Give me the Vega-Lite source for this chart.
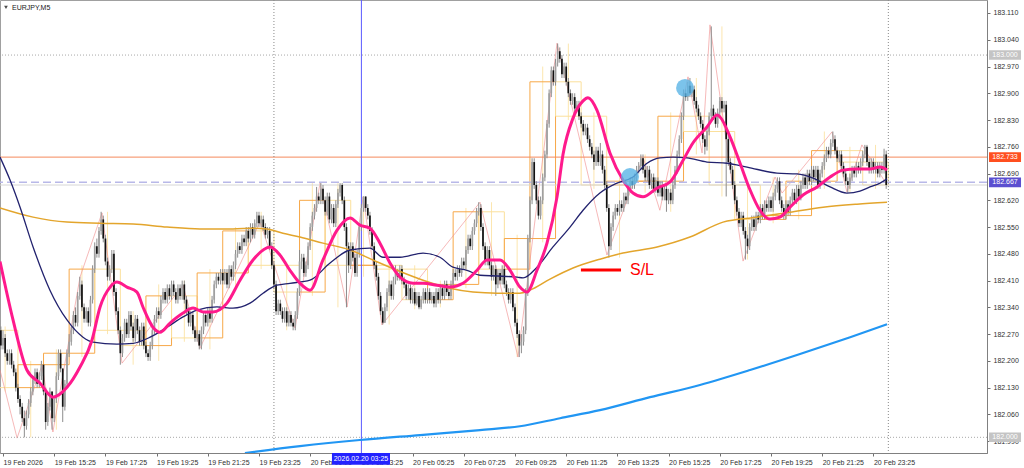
{
"$schema":"https://vega.github.io/schema/vega-lite/v6.json",
"width":987,"height":453,"autosize":{"type":"none"},"padding":{"left":0,"top":0,"right":37,"bottom":15},
"background":"#ffffff",
"config":{"view":{"stroke":"#a0a0a0"},
"axis":{"grid":false,"title":null,"labelFont":"Liberation Sans","labelFontSize":7,"labelColor":"#303030","tickSize":3,"tickColor":"#707070","domainColor":"#808080","labelFlush":false,"labelOverlap":false},
"axisX":{"labelAlign":"left","labelBaseline":"top","labelPadding":2},
"axisY":{"labelAlign":"left","labelPadding":3}},
"datasets":{
"bars":[
{"i":-1,"o":182.28,"c":182.24,"h":182.29,"l":182.23},
{"i":0,"c":182.26,"h":182.28,"l":182.23},
{"i":1,"c":182.22,"h":182.27,"l":182.21},
{"i":2,"c":182.2,"h":182.23,"l":182.19},
{"i":3,"c":182.22,"h":182.23,"l":182.19},
{"i":4,"c":182.19,"h":182.23,"l":182.18},
{"i":5,"c":182.17,"h":182.2,"l":182.16},
{"i":6,"c":182.13,"h":182.18,"l":182.12},
{"i":7,"c":182.1,"h":182.14,"l":182.09},
{"i":8,"c":182.08,"h":182.11,"l":182.06},
{"i":9,"c":182.05,"h":182.09,"l":182.04},
{"i":10,"c":182.03,"h":182.07,"l":182.0},
{"i":11,"c":182.06,"h":182.07,"l":182.02},
{"i":12,"c":182.09,"h":182.1,"l":182.05},
{"i":13,"c":182.12,"h":182.13,"l":182.08},
{"i":14,"c":182.15,"h":182.16,"l":182.11},
{"i":15,"c":182.17,"h":182.18,"l":182.14},
{"i":16,"c":182.14,"h":182.18,"l":182.13},
{"i":17,"c":182.16,"h":182.17,"l":182.13},
{"i":18,"c":182.19,"h":182.2,"l":182.15},
{"i":19,"c":182.12,"h":182.19,"l":182.11},
{"i":20,"c":182.04,"h":182.13,"l":182.02},
{"i":21,"c":182.08,"h":182.09,"l":182.03},
{"i":22,"c":182.12,"h":182.13,"l":182.07},
{"i":23,"c":182.05,"h":182.12,"l":182.02},
{"i":24,"c":182.1,"h":182.11,"l":182.04},
{"i":25,"c":182.16,"h":182.17,"l":182.09},
{"i":26,"c":182.22,"h":182.23,"l":182.15},
{"i":27,"c":182.18,"h":182.23,"l":182.17},
{"i":28,"c":182.08,"h":182.18,"l":182.04},
{"i":29,"c":182.14,"h":182.15,"l":182.07},
{"i":30,"c":182.22,"h":182.23,"l":182.13},
{"i":31,"c":182.25,"h":182.27,"l":182.21},
{"i":32,"c":182.28,"h":182.29,"l":182.24},
{"i":33,"c":182.32,"h":182.33,"l":182.27},
{"i":34,"c":182.3,"h":182.34,"l":182.29},
{"i":35,"c":182.37,"h":182.38,"l":182.29},
{"i":36,"c":182.4,"h":182.42,"l":182.36},
{"i":37,"c":182.34,"h":182.41,"l":182.33},
{"i":38,"c":182.31,"h":182.35,"l":182.3},
{"i":39,"c":182.33,"h":182.34,"l":182.3},
{"i":40,"c":182.3,"h":182.34,"l":182.29},
{"i":41,"c":182.36,"h":182.37,"l":182.29},
{"i":42,"c":182.44,"h":182.45,"l":182.35},
{"i":43,"c":182.5,"h":182.51,"l":182.43},
{"i":44,"c":182.48,"h":182.52,"l":182.47},
{"i":45,"c":182.54,"h":182.55,"l":182.47},
{"i":46,"c":182.57,"h":182.59,"l":182.53},
{"i":47,"c":182.52,"h":182.58,"l":182.51},
{"i":48,"c":182.46,"h":182.53,"l":182.45},
{"i":49,"c":182.42,"h":182.47,"l":182.41},
{"i":50,"c":182.44,"h":182.45,"l":182.41},
{"i":51,"c":182.48,"h":182.49,"l":182.43},
{"i":52,"c":182.38,"h":182.49,"l":182.37},
{"i":53,"c":182.33,"h":182.39,"l":182.32},
{"i":54,"c":182.28,"h":182.34,"l":182.27},
{"i":55,"c":182.22,"h":182.29,"l":182.19},
{"i":56,"c":182.26,"h":182.27,"l":182.21},
{"i":57,"c":182.3,"h":182.31,"l":182.25},
{"i":58,"c":182.27,"h":182.31,"l":182.26},
{"i":59,"c":182.32,"h":182.33,"l":182.26},
{"i":60,"c":182.29,"h":182.33,"l":182.28},
{"i":61,"c":182.26,"h":182.3,"l":182.25},
{"i":62,"c":182.31,"h":182.32,"l":182.25},
{"i":63,"c":182.28,"h":182.32,"l":182.27},
{"i":64,"c":182.25,"h":182.29,"l":182.24},
{"i":65,"c":182.29,"h":182.3,"l":182.24},
{"i":66,"c":182.24,"h":182.3,"l":182.23},
{"i":67,"c":182.22,"h":182.25,"l":182.21},
{"i":68,"c":182.21,"h":182.23,"l":182.2},
{"i":69,"c":182.24,"h":182.25,"l":182.2},
{"i":70,"c":182.28,"h":182.29,"l":182.23},
{"i":71,"c":182.31,"h":182.32,"l":182.27},
{"i":72,"c":182.33,"h":182.34,"l":182.3},
{"i":73,"c":182.32,"h":182.34,"l":182.31},
{"i":74,"c":182.36,"h":182.37,"l":182.31},
{"i":75,"c":182.38,"h":182.39,"l":182.35},
{"i":76,"c":182.36,"h":182.39,"l":182.35},
{"i":77,"c":182.39,"h":182.4,"l":182.35},
{"i":78,"c":182.37,"h":182.4,"l":182.36},
{"i":79,"c":182.4,"h":182.41,"l":182.36},
{"i":80,"c":182.38,"h":182.41,"l":182.37},
{"i":81,"c":182.36,"h":182.39,"l":182.35},
{"i":82,"c":182.39,"h":182.4,"l":182.35},
{"i":83,"c":182.37,"h":182.4,"l":182.36},
{"i":84,"c":182.4,"h":182.41,"l":182.36},
{"i":85,"c":182.36,"h":182.41,"l":182.35},
{"i":86,"c":182.33,"h":182.37,"l":182.32},
{"i":87,"c":182.3,"h":182.34,"l":182.29},
{"i":88,"c":182.32,"h":182.33,"l":182.29},
{"i":89,"c":182.28,"h":182.33,"l":182.27},
{"i":90,"c":182.26,"h":182.29,"l":182.25},
{"i":91,"c":182.27,"h":182.28,"l":182.25},
{"i":92,"c":182.24,"h":182.28,"l":182.23},
{"i":93,"c":182.28,"h":182.29,"l":182.23},
{"i":94,"c":182.32,"h":182.33,"l":182.27},
{"i":95,"c":182.3,"h":182.33,"l":182.29},
{"i":96,"c":182.33,"h":182.34,"l":182.29},
{"i":97,"c":182.31,"h":182.34,"l":182.3},
{"i":98,"c":182.36,"h":182.37,"l":182.3},
{"i":99,"c":182.4,"h":182.41,"l":182.35},
{"i":100,"c":182.42,"h":182.43,"l":182.39},
{"i":101,"c":182.41,"h":182.43,"l":182.4},
{"i":102,"c":182.43,"h":182.44,"l":182.4},
{"i":103,"c":182.41,"h":182.44,"l":182.4},
{"i":104,"c":182.43,"h":182.44,"l":182.4},
{"i":105,"c":182.4,"h":182.44,"l":182.39},
{"i":106,"c":182.44,"h":182.45,"l":182.39},
{"i":107,"c":182.42,"h":182.45,"l":182.41},
{"i":108,"c":182.45,"h":182.46,"l":182.41},
{"i":109,"c":182.48,"h":182.49,"l":182.44},
{"i":110,"c":182.5,"h":182.51,"l":182.47},
{"i":111,"c":182.49,"h":182.51,"l":182.48},
{"i":112,"c":182.52,"h":182.53,"l":182.48},
{"i":113,"c":182.51,"h":182.53,"l":182.5},
{"i":114,"c":182.54,"h":182.55,"l":182.5},
{"i":115,"c":182.52,"h":182.55,"l":182.51},
{"i":116,"c":182.55,"h":182.56,"l":182.51},
{"i":117,"c":182.53,"h":182.56,"l":182.52},
{"i":118,"c":182.56,"h":182.57,"l":182.52},
{"i":119,"c":182.58,"h":182.59,"l":182.55},
{"i":120,"c":182.56,"h":182.59,"l":182.55},
{"i":121,"c":182.57,"h":182.58,"l":182.55},
{"i":122,"c":182.55,"h":182.58,"l":182.54},
{"i":123,"c":182.53,"h":182.56,"l":182.52},
{"i":124,"c":182.54,"h":182.55,"l":182.52},
{"i":125,"c":182.5,"h":182.55,"l":182.49},
{"i":126,"c":182.45,"h":182.51,"l":182.44},
{"i":127,"c":182.4,"h":182.46,"l":182.39},
{"i":128,"c":182.33,"h":182.41,"l":182.32},
{"i":129,"c":182.35,"h":182.36,"l":182.32},
{"i":130,"c":182.33,"h":182.36,"l":182.32},
{"i":131,"c":182.31,"h":182.34,"l":182.3},
{"i":132,"c":182.33,"h":182.34,"l":182.3},
{"i":133,"c":182.3,"h":182.34,"l":182.29},
{"i":134,"c":182.32,"h":182.33,"l":182.29},
{"i":135,"c":182.3,"h":182.33,"l":182.29},
{"i":136,"c":182.29,"h":182.31,"l":182.28},
{"i":137,"c":182.32,"h":182.33,"l":182.28},
{"i":138,"c":182.38,"h":182.39,"l":182.31},
{"i":139,"c":182.46,"h":182.49,"l":182.37},
{"i":140,"c":182.47,"h":182.48,"l":182.44},
{"i":141,"c":182.43,"h":182.48,"l":182.42},
{"i":142,"c":182.45,"h":182.46,"l":182.42},
{"i":143,"c":182.5,"h":182.51,"l":182.44},
{"i":144,"c":182.55,"h":182.56,"l":182.49},
{"i":145,"c":182.58,"h":182.59,"l":182.54},
{"i":146,"c":182.6,"h":182.61,"l":182.57},
{"i":147,"c":182.63,"h":182.655,"l":182.59},
{"i":148,"c":182.62,"h":182.64,"l":182.61},
{"i":149,"c":182.65,"h":182.665,"l":182.61},
{"i":150,"c":182.62,"h":182.66,"l":182.61},
{"i":151,"c":182.59,"h":182.63,"l":182.58},
{"i":152,"c":182.63,"h":182.64,"l":182.58},
{"i":153,"c":182.57,"h":182.64,"l":182.56},
{"i":154,"c":182.6,"h":182.61,"l":182.56},
{"i":155,"c":182.56,"h":182.61,"l":182.55},
{"i":156,"c":182.61,"h":182.62,"l":182.55},
{"i":157,"c":182.64,"h":182.65,"l":182.6},
{"i":158,"c":182.66,"h":182.665,"l":182.63},
{"i":159,"c":182.62,"h":182.665,"l":182.61},
{"i":160,"c":182.55,"h":182.63,"l":182.54},
{"i":161,"c":182.5,"h":182.56,"l":182.34},
{"i":162,"c":182.45,"h":182.51,"l":182.43},
{"i":163,"c":182.5,"h":182.51,"l":182.44},
{"i":164,"c":182.47,"h":182.51,"l":182.46},
{"i":165,"c":182.43,"h":182.48,"l":182.42},
{"i":166,"c":182.48,"h":182.49,"l":182.42},
{"i":167,"c":182.55,"h":182.56,"l":182.47},
{"i":168,"c":182.6,"h":182.61,"l":182.54},
{"i":169,"c":182.63,"h":182.63,"l":182.59},
{"i":170,"c":182.6,"h":182.63,"l":182.59},
{"i":171,"c":182.58,"h":182.61,"l":182.57},
{"i":172,"c":182.54,"h":182.59,"l":182.53},
{"i":173,"c":182.5,"h":182.55,"l":182.49},
{"i":174,"c":182.45,"h":182.51,"l":182.44},
{"i":175,"c":182.42,"h":182.46,"l":182.41},
{"i":176,"c":182.37,"h":182.43,"l":182.36},
{"i":177,"c":182.33,"h":182.38,"l":182.32},
{"i":178,"c":182.3,"h":182.34,"l":182.295},
{"i":179,"c":182.34,"h":182.35,"l":182.3},
{"i":180,"c":182.38,"h":182.39,"l":182.33},
{"i":181,"c":182.4,"h":182.41,"l":182.37},
{"i":182,"c":182.37,"h":182.41,"l":182.36},
{"i":183,"c":182.41,"h":182.42,"l":182.36},
{"i":184,"c":182.43,"h":182.45,"l":182.4},
{"i":185,"c":182.42,"h":182.44,"l":182.41},
{"i":186,"c":182.44,"h":182.45,"l":182.41},
{"i":187,"c":182.41,"h":182.45,"l":182.4},
{"i":188,"c":182.4,"h":182.42,"l":182.39},
{"i":189,"c":182.37,"h":182.41,"l":182.36},
{"i":190,"c":182.39,"h":182.4,"l":182.36},
{"i":191,"c":182.36,"h":182.4,"l":182.35},
{"i":192,"c":182.38,"h":182.39,"l":182.35},
{"i":193,"c":182.35,"h":182.39,"l":182.345},
{"i":194,"c":182.37,"h":182.38,"l":182.345},
{"i":195,"c":182.34,"h":182.38,"l":182.335},
{"i":196,"c":182.36,"h":182.37,"l":182.335},
{"i":197,"c":182.38,"h":182.39,"l":182.35},
{"i":198,"c":182.36,"h":182.39,"l":182.35},
{"i":199,"c":182.38,"h":182.39,"l":182.35},
{"i":200,"c":182.36,"h":182.39,"l":182.35},
{"i":201,"c":182.37,"h":182.38,"l":182.35},
{"i":202,"c":182.35,"h":182.38,"l":182.34},
{"i":203,"c":182.38,"h":182.39,"l":182.34},
{"i":204,"c":182.36,"h":182.39,"l":182.35},
{"i":205,"c":182.39,"h":182.4,"l":182.35},
{"i":206,"c":182.37,"h":182.4,"l":182.36},
{"i":207,"c":182.4,"h":182.41,"l":182.36},
{"i":208,"c":182.38,"h":182.41,"l":182.37},
{"i":209,"c":182.37,"h":182.39,"l":182.36},
{"i":210,"c":182.4,"h":182.41,"l":182.36},
{"i":211,"c":182.43,"h":182.44,"l":182.39},
{"i":212,"c":182.42,"h":182.44,"l":182.41},
{"i":213,"c":182.44,"h":182.45,"l":182.41},
{"i":214,"c":182.43,"h":182.45,"l":182.42},
{"i":215,"c":182.46,"h":182.47,"l":182.42},
{"i":216,"c":182.45,"h":182.47,"l":182.44},
{"i":217,"c":182.49,"h":182.5,"l":182.44},
{"i":218,"c":182.52,"h":182.53,"l":182.48},
{"i":219,"c":182.5,"h":182.53,"l":182.49},
{"i":220,"c":182.54,"h":182.55,"l":182.49},
{"i":221,"c":182.56,"h":182.57,"l":182.53},
{"i":222,"c":182.59,"h":182.6,"l":182.55},
{"i":223,"c":182.6,"h":182.615,"l":182.58},
{"i":224,"c":182.55,"h":182.61,"l":182.54},
{"i":225,"c":182.5,"h":182.56,"l":182.49},
{"i":226,"c":182.46,"h":182.51,"l":182.45},
{"i":227,"c":182.49,"h":182.5,"l":182.45},
{"i":228,"c":182.45,"h":182.5,"l":182.44},
{"i":229,"c":182.42,"h":182.46,"l":182.41},
{"i":230,"c":182.44,"h":182.45,"l":182.41},
{"i":231,"c":182.4,"h":182.45,"l":182.37},
{"i":232,"c":182.43,"h":182.44,"l":182.39},
{"i":233,"c":182.41,"h":182.44,"l":182.4},
{"i":234,"c":182.44,"h":182.45,"l":182.4},
{"i":235,"c":182.4,"h":182.45,"l":182.39},
{"i":236,"c":182.38,"h":182.41,"l":182.37},
{"i":237,"c":182.36,"h":182.39,"l":182.35},
{"i":238,"c":182.38,"h":182.39,"l":182.35},
{"i":239,"c":182.34,"h":182.39,"l":182.33},
{"i":240,"c":182.3,"h":182.35,"l":182.29},
{"i":241,"c":182.27,"h":182.31,"l":182.26},
{"i":242,"c":182.24,"h":182.28,"l":182.21},
{"i":243,"c":182.25,"h":182.27,"l":182.22},
{"i":244,"c":182.28,"h":182.29,"l":182.24},
{"i":245,"c":182.38,"h":182.39,"l":182.27},
{"i":246,"c":182.52,"h":182.53,"l":182.37},
{"i":247,"c":182.62,"h":182.63,"l":182.51},
{"i":248,"c":182.72,"h":182.73,"l":182.61},
{"i":249,"c":182.66,"h":182.73,"l":182.65},
{"i":250,"c":182.62,"h":182.67,"l":182.61},
{"i":251,"c":182.58,"h":182.63,"l":182.57},
{"i":252,"c":182.62,"h":182.63,"l":182.57},
{"i":253,"c":182.68,"h":182.69,"l":182.61},
{"i":254,"c":182.74,"h":182.75,"l":182.67},
{"i":255,"c":182.82,"h":182.83,"l":182.73},
{"i":256,"c":182.9,"h":182.91,"l":182.81},
{"i":257,"c":182.96,"h":182.97,"l":182.89},
{"i":258,"c":182.93,"h":182.97,"l":182.92},
{"i":259,"c":182.98,"h":182.99,"l":182.92},
{"i":260,"c":183.01,"h":183.03,"l":182.97},
{"i":261,"c":182.99,"h":183.02,"l":182.98},
{"i":262,"c":182.95,"h":183.0,"l":182.94},
{"i":263,"c":182.97,"h":182.98,"l":182.94},
{"i":264,"c":182.93,"h":182.98,"l":182.92},
{"i":265,"c":182.9,"h":182.94,"l":182.89},
{"i":266,"c":182.88,"h":182.91,"l":182.87},
{"i":267,"c":182.89,"h":182.9,"l":182.87},
{"i":268,"c":182.86,"h":182.9,"l":182.85},
{"i":269,"c":182.87,"h":182.88,"l":182.85},
{"i":270,"c":182.84,"h":182.88,"l":182.83},
{"i":271,"c":182.82,"h":182.85,"l":182.81},
{"i":272,"c":182.8,"h":182.83,"l":182.79},
{"i":273,"c":182.81,"h":182.82,"l":182.79},
{"i":274,"c":182.78,"h":182.82,"l":182.77},
{"i":275,"c":182.76,"h":182.79,"l":182.75},
{"i":276,"c":182.74,"h":182.77,"l":182.73},
{"i":277,"c":182.72,"h":182.75,"l":182.7},
{"i":278,"c":182.75,"h":182.76,"l":182.71},
{"i":279,"c":182.72,"h":182.76,"l":182.71},
{"i":280,"c":182.74,"h":182.77,"l":182.71},
{"i":281,"c":182.7,"h":182.75,"l":182.69},
{"i":282,"c":182.66,"h":182.71,"l":182.65},
{"i":283,"c":182.6,"h":182.67,"l":182.59},
{"i":284,"c":182.5,"h":182.61,"l":182.47},
{"i":285,"c":182.55,"h":182.56,"l":182.49},
{"i":286,"c":182.58,"h":182.59,"l":182.54},
{"i":287,"c":182.6,"h":182.61,"l":182.57},
{"i":288,"c":182.59,"h":182.61,"l":182.58},
{"i":289,"c":182.61,"h":182.62,"l":182.58},
{"i":290,"c":182.6,"h":182.62,"l":182.59},
{"i":291,"c":182.63,"h":182.64,"l":182.59},
{"i":292,"c":182.62,"h":182.64,"l":182.61},
{"i":293,"c":182.65,"h":182.66,"l":182.61},
{"i":294,"c":182.67,"h":182.68,"l":182.64},
{"i":295,"c":182.66,"h":182.68,"l":182.65},
{"i":296,"c":182.68,"h":182.69,"l":182.65},
{"i":297,"c":182.7,"h":182.71,"l":182.67},
{"i":298,"c":182.71,"h":182.72,"l":182.69},
{"i":299,"c":182.73,"h":182.74,"l":182.7},
{"i":300,"c":182.7,"h":182.74,"l":182.69},
{"i":301,"c":182.68,"h":182.71,"l":182.67},
{"i":302,"c":182.7,"h":182.71,"l":182.67},
{"i":303,"c":182.66,"h":182.71,"l":182.65},
{"i":304,"c":182.68,"h":182.69,"l":182.65},
{"i":305,"c":182.65,"h":182.69,"l":182.64},
{"i":306,"c":182.67,"h":182.68,"l":182.64},
{"i":307,"c":182.64,"h":182.68,"l":182.63},
{"i":308,"c":182.66,"h":182.67,"l":182.63},
{"i":309,"c":182.63,"h":182.67,"l":182.62},
{"i":310,"c":182.65,"h":182.66,"l":182.62},
{"i":311,"c":182.62,"h":182.66,"l":182.59},
{"i":312,"c":182.64,"h":182.65,"l":182.61},
{"i":313,"c":182.62,"h":182.65,"l":182.61},
{"i":314,"c":182.66,"h":182.67,"l":182.61},
{"i":315,"c":182.7,"h":182.71,"l":182.65},
{"i":316,"c":182.74,"h":182.75,"l":182.69},
{"i":317,"c":182.78,"h":182.79,"l":182.73},
{"i":318,"c":182.84,"h":182.85,"l":182.77},
{"i":319,"c":182.9,"h":182.91,"l":182.83},
{"i":320,"c":182.89,"h":182.91,"l":182.88},
{"i":321,"c":182.92,"h":182.93,"l":182.88},
{"i":322,"c":182.9,"h":182.94,"l":182.89},
{"i":323,"c":182.91,"h":182.92,"l":182.89},
{"i":324,"c":182.88,"h":182.92,"l":182.87},
{"i":325,"c":182.86,"h":182.89,"l":182.85},
{"i":326,"c":182.84,"h":182.87,"l":182.83},
{"i":327,"c":182.82,"h":182.85,"l":182.81},
{"i":328,"c":182.78,"h":182.83,"l":182.77},
{"i":329,"c":182.76,"h":182.79,"l":182.74},
{"i":330,"c":182.8,"h":182.81,"l":182.75},
{"i":331,"c":182.84,"h":182.85,"l":182.79},
{"i":332,"c":182.86,"h":183.075,"l":182.83},
{"i":333,"c":182.84,"h":182.87,"l":182.83},
{"i":334,"c":182.82,"h":182.85,"l":182.81},
{"i":335,"c":182.85,"h":182.86,"l":182.81},
{"i":336,"c":182.88,"h":182.89,"l":182.84},
{"i":337,"c":182.86,"h":182.89,"l":182.85},
{"i":338,"c":182.87,"h":182.88,"l":182.85},
{"i":339,"c":182.78,"h":182.88,"l":182.63},
{"i":340,"c":182.72,"h":182.79,"l":182.71},
{"i":341,"c":182.7,"h":182.73,"l":182.69},
{"i":342,"c":182.66,"h":182.71,"l":182.65},
{"i":343,"c":182.62,"h":182.67,"l":182.61},
{"i":344,"c":182.59,"h":182.63,"l":182.58},
{"i":345,"c":182.56,"h":182.6,"l":182.55},
{"i":346,"c":182.58,"h":182.59,"l":182.55},
{"i":347,"c":182.54,"h":182.59,"l":182.53},
{"i":348,"c":182.52,"h":182.55,"l":182.465},
{"i":349,"c":182.5,"h":182.53,"l":182.48},
{"i":350,"c":182.55,"h":182.56,"l":182.49},
{"i":351,"c":182.57,"h":182.58,"l":182.54},
{"i":352,"c":182.55,"h":182.58,"l":182.54},
{"i":353,"c":182.58,"h":182.59,"l":182.54},
{"i":354,"c":182.57,"h":182.59,"l":182.56},
{"i":355,"c":182.6,"h":182.61,"l":182.56},
{"i":356,"c":182.58,"h":182.61,"l":182.57},
{"i":357,"c":182.61,"h":182.62,"l":182.57},
{"i":358,"c":182.6,"h":182.62,"l":182.59},
{"i":359,"c":182.62,"h":182.63,"l":182.59},
{"i":360,"c":182.6,"h":182.63,"l":182.59},
{"i":361,"c":182.63,"h":182.64,"l":182.59},
{"i":362,"c":182.65,"h":182.66,"l":182.62},
{"i":363,"c":182.67,"h":182.68,"l":182.64},
{"i":364,"c":182.62,"h":182.68,"l":182.61},
{"i":365,"c":182.6,"h":182.63,"l":182.59},
{"i":366,"c":182.58,"h":182.61,"l":182.57},
{"i":367,"c":182.61,"h":182.62,"l":182.57},
{"i":368,"c":182.59,"h":182.62,"l":182.58},
{"i":369,"c":182.62,"h":182.63,"l":182.58},
{"i":370,"c":182.64,"h":182.65,"l":182.61},
{"i":371,"c":182.62,"h":182.65,"l":182.61},
{"i":372,"c":182.65,"h":182.66,"l":182.61},
{"i":373,"c":182.63,"h":182.66,"l":182.62},
{"i":374,"c":182.66,"h":182.67,"l":182.62},
{"i":375,"c":182.68,"h":182.69,"l":182.65},
{"i":376,"c":182.66,"h":182.69,"l":182.65},
{"i":377,"c":182.69,"h":182.7,"l":182.65},
{"i":378,"c":182.67,"h":182.7,"l":182.66},
{"i":379,"c":182.7,"h":182.71,"l":182.66},
{"i":380,"c":182.68,"h":182.71,"l":182.67},
{"i":381,"c":182.7,"h":182.71,"l":182.67},
{"i":382,"c":182.66,"h":182.71,"l":182.65},
{"i":383,"c":182.69,"h":182.7,"l":182.65},
{"i":384,"c":182.71,"h":182.72,"l":182.68},
{"i":385,"c":182.73,"h":182.74,"l":182.7},
{"i":386,"c":182.75,"h":182.76,"l":182.72},
{"i":387,"c":182.74,"h":182.76,"l":182.73},
{"i":388,"c":182.77,"h":182.78,"l":182.73},
{"i":389,"c":182.78,"h":182.8,"l":182.76},
{"i":390,"c":182.75,"h":182.79,"l":182.74},
{"i":391,"c":182.73,"h":182.76,"l":182.72},
{"i":392,"c":182.74,"h":182.75,"l":182.72},
{"i":393,"c":182.71,"h":182.75,"l":182.7},
{"i":394,"c":182.69,"h":182.72,"l":182.68},
{"i":395,"c":182.67,"h":182.7,"l":182.66},
{"i":396,"c":182.66,"h":182.68,"l":182.64},
{"i":397,"c":182.68,"h":182.69,"l":182.65},
{"i":398,"c":182.7,"h":182.71,"l":182.67},
{"i":399,"c":182.69,"h":182.71,"l":182.68},
{"i":400,"c":182.71,"h":182.72,"l":182.68},
{"i":401,"c":182.7,"h":182.72,"l":182.69},
{"i":402,"c":182.72,"h":182.73,"l":182.69},
{"i":403,"c":182.74,"h":182.75,"l":182.71},
{"i":404,"c":182.76,"h":182.765,"l":182.73},
{"i":405,"c":182.72,"h":182.765,"l":182.71},
{"i":406,"c":182.7,"h":182.73,"l":182.69},
{"i":407,"c":182.72,"h":182.73,"l":182.69},
{"i":408,"c":182.7,"h":182.73,"l":182.69},
{"i":409,"c":182.71,"h":182.72,"l":182.69},
{"i":410,"c":182.69,"h":182.72,"l":182.68},
{"i":411,"c":182.71,"h":182.72,"l":182.68},
{"i":412,"c":182.7,"h":182.72,"l":182.69},
{"i":413,"c":182.74,"h":182.755,"l":182.69},
{"i":414,"c":182.66,"h":182.75,"l":182.65}
],
"pink":[{"i":-1.4,"p":182.46},{"i":4.7,"p":182.307},{"i":11.2,"p":182.176},{"i":17.3,"p":182.142},{"i":23.4,"p":182.105},{"i":30,"p":182.131},{"i":36.1,"p":182.184},{"i":41.7,"p":182.254},{"i":45.5,"p":182.341},{"i":50.2,"p":182.393},{"i":53.4,"p":182.406},{"i":58.1,"p":182.393},{"i":62.8,"p":182.38},{"i":65.6,"p":182.341},{"i":70.3,"p":182.288},{"i":73.6,"p":182.275},{"i":78.3,"p":182.299},{"i":84.4,"p":182.325},{"i":89.1,"p":182.338},{"i":93.8,"p":182.328},{"i":98.4,"p":182.328},{"i":105,"p":182.351},{"i":111.1,"p":182.411},{"i":117.2,"p":182.464},{"i":125.2,"p":182.498},{"i":129.8,"p":182.477},{"i":134.5,"p":182.437},{"i":139.2,"p":182.403},{"i":143.9,"p":182.385},{"i":150,"p":182.464},{"i":156.6,"p":182.542},{"i":162.7,"p":182.574},{"i":167.3,"p":182.555},{"i":172,"p":182.547},{"i":176.7,"p":182.508},{"i":181.4,"p":182.456},{"i":186.1,"p":182.419},{"i":192.2,"p":182.403},{"i":196.9,"p":182.403},{"i":203.4,"p":182.398},{"i":209.5,"p":182.393},{"i":215.6,"p":182.403},{"i":222.2,"p":182.437},{"i":226.9,"p":182.464},{"i":233,"p":182.464},{"i":237.7,"p":182.437},{"i":242.3,"p":182.393},{"i":245.6,"p":182.38},{"i":250.3,"p":182.437},{"i":255,"p":182.508},{"i":259.7,"p":182.629},{"i":262.5,"p":182.74},{"i":267.2,"p":182.835},{"i":271.9,"p":182.88},{"i":274.2,"p":182.888},{"i":278.4,"p":182.856},{"i":284.5,"p":182.744},{"i":290.6,"p":182.673},{"i":295.3,"p":182.639},{"i":300,"p":182.629},{"i":306.6,"p":182.652},{"i":312.7,"p":182.668},{"i":318.8,"p":182.725},{"i":323.4,"p":182.77},{"i":330,"p":182.812},{"i":334.7,"p":182.843},{"i":336.1,"p":182.838},{"i":340.8,"p":182.786},{"i":345.5,"p":182.717},{"i":350.2,"p":182.647},{"i":354.8,"p":182.594},{"i":359.5,"p":182.571},{"i":364.2,"p":182.576},{"i":368.9,"p":182.602},{"i":375,"p":182.634},{"i":381.6,"p":182.655},{"i":387.7,"p":182.681},{"i":393.8,"p":182.699},{"i":400.3,"p":182.702},{"i":406.4,"p":182.702},{"i":411.1,"p":182.707},{"i":414.4,"p":182.699}],
"navy":[{"i":-1.4,"p":182.733},{"i":3.3,"p":182.673},{"i":8,"p":182.602},{"i":14.1,"p":182.498},{"i":22,"p":182.385},{"i":30,"p":182.307},{"i":37.5,"p":182.262},{"i":42.2,"p":182.249},{"i":53.4,"p":182.244},{"i":61,"p":182.246},{"i":69,"p":182.262},{"i":76.9,"p":182.288},{"i":84.4,"p":182.315},{"i":91,"p":182.333},{"i":100.3,"p":182.341},{"i":107.8,"p":182.338},{"i":115.8,"p":182.351},{"i":121.9,"p":182.377},{"i":128.4,"p":182.398},{"i":134.5,"p":182.403},{"i":143.9,"p":182.411},{"i":153.3,"p":182.456},{"i":162.7,"p":182.49},{"i":172,"p":182.495},{"i":178.1,"p":182.471},{"i":186.1,"p":182.471},{"i":196.9,"p":182.482},{"i":204.8,"p":182.471},{"i":210.9,"p":182.445},{"i":217.5,"p":182.437},{"i":223.6,"p":182.424},{"i":231.6,"p":182.422},{"i":241,"p":182.419},{"i":243.8,"p":182.417},{"i":250.3,"p":182.445},{"i":257.8,"p":182.498},{"i":265.8,"p":182.55},{"i":271.9,"p":182.594},{"i":279.8,"p":182.639},{"i":287.8,"p":182.665},{"i":295.3,"p":182.681},{"i":301.9,"p":182.717},{"i":308,"p":182.731},{"i":314.1,"p":182.733},{"i":320.6,"p":182.731},{"i":330,"p":182.72},{"i":339.4,"p":182.717},{"i":348.8,"p":182.707},{"i":362.8,"p":182.691},{"i":372.2,"p":182.689},{"i":379.7,"p":182.678},{"i":387.7,"p":182.655},{"i":395.6,"p":182.639},{"i":401.7,"p":182.644},{"i":406.4,"p":182.655},{"i":411.1,"p":182.665},{"i":414.4,"p":182.676}],
"gold":[{"i":-1.4,"p":182.6},{"i":14.1,"p":182.576},{"i":30,"p":182.563},{"i":45.5,"p":182.56},{"i":61,"p":182.558},{"i":76.9,"p":182.55},{"i":92.3,"p":182.545},{"i":107.8,"p":182.545},{"i":117.2,"p":182.547},{"i":123.7,"p":182.545},{"i":131.2,"p":182.534},{"i":139.2,"p":182.524},{"i":150,"p":182.508},{"i":162.7,"p":182.49},{"i":173.4,"p":182.464},{"i":184.7,"p":182.437},{"i":196.9,"p":182.411},{"i":209.5,"p":182.39},{"i":220.3,"p":182.38},{"i":231.6,"p":182.377},{"i":242.3,"p":182.377},{"i":247,"p":182.385},{"i":256.4,"p":182.414},{"i":267.2,"p":182.443},{"i":279.8,"p":182.466},{"i":290.6,"p":182.482},{"i":306.6,"p":182.498},{"i":322,"p":182.524},{"i":337.5,"p":182.563},{"i":353.4,"p":182.576},{"i":368.9,"p":182.589},{"i":384.4,"p":182.602},{"i":400.3,"p":182.61},{"i":414.4,"p":182.615}],
"blue":[{"i":113.4,"p":181.959},{"i":139.2,"p":181.977},{"i":167.3,"p":181.993},{"i":195.5,"p":182.006},{"i":223.6,"p":182.019},{"i":242.3,"p":182.029},{"i":261.1,"p":182.05},{"i":279.8,"p":182.071},{"i":303.3,"p":182.105},{"i":326.7,"p":182.137},{"i":350.2,"p":182.176},{"i":373.6,"p":182.218},{"i":397.1,"p":182.262},{"i":414.4,"p":182.296}],
"zz":[{"i":-1.4,"p":182.176},{"i":6.6,"p":181.998},{"i":18.3,"p":182.189},{"i":23.4,"p":182.014},{"i":36.1,"p":182.419},{"i":46.4,"p":182.587},{"i":55.8,"p":182.194},{"i":84.4,"p":182.398},{"i":92.3,"p":182.233},{"i":120.5,"p":182.563},{"i":136.9,"p":182.286},{"i":148.6,"p":182.665},{"i":161.3,"p":182.341},{"i":168.8,"p":182.629},{"i":177.6,"p":182.294},{"i":223.6,"p":182.615},{"i":241.4,"p":182.21},{"i":259.7,"p":183.031},{"i":283.1,"p":182.477},{"i":300,"p":182.733},{"i":307.9,"p":182.594},{"i":321.1,"p":182.943},{"i":327.7,"p":182.744},{"i":331.4,"p":183.079},{"i":346.9,"p":182.461},{"i":361.9,"p":182.681},{"i":365.2,"p":182.639},{"i":388.6,"p":182.799},{"i":395.6,"p":182.642},{"i":402.6,"p":182.765},{"i":414.4,"p":182.66}]
},
"data":{"name":"bars"},
"transform":[
{"window":[{"op":"lag","field":"c","param":1,"as":"pc"}],"sort":[{"field":"i","order":"ascending"}]},
{"calculate":"isValid(datum.o)?datum.o:datum.pc","as":"o"}
],
"layer":[
{"mark":{"type":"rule","color":"#8c8c8c","strokeWidth":1,"opacity":0},
"encoding":{
"x":{"field":"i","type":"quantitative","title":null,"scale":{"domain":[-1.406,461.25],"nice":false,"zero":false},
"axis":{"orient":"bottom","labelOverlap":false,"values":[0,24,48,72,96,120,144,168,192,216,240,264,288,312,336,360,384,408],
"labelExpr":"['19 Feb 2026','19 Feb 15:25','19 Feb 17:25','19 Feb 19:25','19 Feb 21:25','19 Feb 23:25','20 Feb 01:25','20 Feb 03:25','20 Feb 05:25','20 Feb 07:25','20 Feb 09:25','20 Feb 11:25','20 Feb 13:25','20 Feb 15:25','20 Feb 17:25','20 Feb 19:25','20 Feb 21:25','20 Feb 23:25'][round(datum.value/24)]"}},
"y":{"field":"l","type":"quantitative","title":null,"scale":{"domain":[181.959,183.144],"nice":false,"zero":false},
"axis":{"orient":"right","labelOverlap":false,"labelSeparation":0,"tickCount":17,"values":[181.99,182.06,182.13,182.2,182.27,182.34,182.41,182.48,182.55,182.62,182.69,182.76,182.83,182.9,182.97,183.04,183.11],"format":".3f"}},
"y2":{"field":"h"}}},
{
"transform":[
{"calculate":"floor((5*datum.i+25)/60)","as":"hr"},
{"aggregate":[{"op":"argmin","field":"i","as":"fst"},{"op":"argmax","field":"i","as":"lst"},{"op":"max","field":"h","as":"hh"},{"op":"min","field":"l","as":"ll"}],"groupby":["hr"]},
{"calculate":"datum.fst.o","as":"bo"},
{"calculate":"datum.lst.c","as":"bc"},
{"calculate":"12*datum.hr-5","as":"x0"},
{"calculate":"12*datum.hr+7","as":"x1"},
{"calculate":"12*datum.hr+1","as":"xm"},
{"calculate":"datum.bc>=datum.bo?'up':'down'","as":"dir"}
],
"layer":[
{"mark":{"type":"rule","color":"#fce6ae","strokeWidth":1,"clip":true},
"encoding":{"x":{"field":"xm","type":"quantitative","title":null},"y":{"field":"ll","type":"quantitative","title":null},"y2":{"field":"hh"}}},
{"mark":{"type":"rect","filled":false,"strokeWidth":1,"clip":true},
"encoding":{"x":{"field":"x0","type":"quantitative","title":null},"x2":{"field":"x1"},"y":{"field":"bo","type":"quantitative","title":null},"y2":{"field":"bc"},
"stroke":{"field":"dir","type":"nominal","scale":{"domain":["up","down"],"range":["#f7a848","#fbe09c"]},"legend":null}}}
]
},
{"data":{"name":"zz"},"mark":{"type":"line","color":"#f08a8a","strokeWidth":1,"opacity":0.6,"clip":true},
"encoding":{"x":{"field":"i","type":"quantitative","title":null},"y":{"field":"p","type":"quantitative","title":null}}},
{"data":{"values":[{"p":183.0},{"p":182.0}]},"mark":{"type":"rule","color":"#a8a8a8","strokeDash":[1,2],"strokeWidth":1},
"encoding":{"y":{"field":"p","type":"quantitative","title":null}}},
{"data":{"values":[{"p":182.66}]},"mark":{"type":"rule","color":"#d6d6d6","strokeWidth":1},
"encoding":{"y":{"field":"p","type":"quantitative","title":null}}},
{"data":{"values":[{"p":182.733}]},"mark":{"type":"rule","color":"#f58a5c","strokeWidth":1},
"encoding":{"y":{"field":"p","type":"quantitative","title":null}}},
{"data":{"values":[{"p":182.667}]},"mark":{"type":"rule","color":"#b8b8e8","strokeWidth":1.5,"strokeDash":[8,4]},
"encoding":{"y":{"field":"p","type":"quantitative","title":null}}},
{"data":{"values":[{"i":127},{"i":415}]},"mark":{"type":"rule","color":"#8a8a8a","strokeDash":[1,2],"strokeWidth":1},
"encoding":{"x":{"field":"i","type":"quantitative","title":null}}},
{"data":{"values":[{"i":168}]},"mark":{"type":"rule","color":"#5a5aff","strokeWidth":1},
"encoding":{"x":{"field":"i","type":"quantitative","title":null}}},
{"mark":{"type":"rule","color":"#8c8c8c","strokeWidth":1,"clip":true},
"encoding":{"x":{"field":"i","type":"quantitative","title":null},"y":{"field":"l","type":"quantitative","title":null},"y2":{"field":"h"}}},
{"mark":{"type":"rule","strokeWidth":1.7,"clip":true},
"encoding":{"x":{"field":"i","type":"quantitative","title":null},"y":{"field":"o","type":"quantitative","title":null},"y2":{"field":"c"},
"color":{"condition":{"test":"datum.c>=datum.o","value":"#a0a0a0"},"value":"#111111"}}},
{"data":{"name":"gold"},"mark":{"type":"line","color":"#e3a52c","strokeWidth":1.5,"interpolate":"monotone","clip":true},
"encoding":{"x":{"field":"i","type":"quantitative","title":null},"y":{"field":"p","type":"quantitative","title":null}}},
{"data":{"name":"navy"},"mark":{"type":"line","color":"#22226e","strokeWidth":1.3,"interpolate":"monotone","clip":true},
"encoding":{"x":{"field":"i","type":"quantitative","title":null},"y":{"field":"p","type":"quantitative","title":null}}},
{"data":{"name":"blue"},"mark":{"type":"line","color":"#2196f3","strokeWidth":2.2,"interpolate":"monotone","clip":true},
"encoding":{"x":{"field":"i","type":"quantitative","title":null},"y":{"field":"p","type":"quantitative","title":null}}},
{"data":{"name":"pink"},"mark":{"type":"line","color":"#ff1a8c","strokeWidth":3,"interpolate":"monotone","clip":true},
"encoding":{"x":{"field":"i","type":"quantitative","title":null},"y":{"field":"p","type":"quantitative","title":null}}},
{"data":{"values":[{"i":293.9,"p":182.681},{"i":319.7,"p":182.914}]},"mark":{"type":"point","filled":true,"shape":"circle","size":320,"color":"#5ab4e6","opacity":0.8},
"encoding":{"x":{"field":"i","type":"quantitative","title":null},"y":{"field":"p","type":"quantitative","title":null}}},
{"data":{"values":[{"a":270.9,"b":289.7,"p":182.438}]},"mark":{"type":"rule","color":"#ff0000","strokeWidth":3},
"encoding":{"x":{"field":"a","type":"quantitative","title":null},"x2":{"field":"b"},"y":{"field":"p","type":"quantitative","title":null}}},
{"data":{"values":[{"i":293.9,"p":182.438,"t":"S/L"}]},"mark":{"type":"text","color":"#ff0000","font":"Liberation Sans","fontSize":16,"align":"left","baseline":"middle"},
"encoding":{"x":{"field":"i","type":"quantitative","title":null},"y":{"field":"p","type":"quantitative","title":null},"text":{"field":"t"}}},
{"data":{"values":[{"i":1.4,"p":183.125}]},"mark":{"type":"point","filled":true,"shape":"triangle-down","size":14,"color":"#000000"},
"encoding":{"x":{"field":"i","type":"quantitative","title":null},"y":{"field":"p","type":"quantitative","title":null}}},
{"data":{"values":[{"i":4.2,"p":183.124,"t":"EURJPY,M5"}]},"mark":{"type":"text","color":"#202020","font":"Liberation Sans","fontSize":7,"align":"left","baseline":"middle"},
"encoding":{"x":{"field":"i","type":"quantitative","title":null},"y":{"field":"p","type":"quantitative","title":null},"text":{"field":"t"}}},
{"data":{"values":[{"a":462.2,"b":477.2,"m":469.7,"p":183.0,"t":"183.000","bg":"#c4c4c4"},{"a":462.2,"b":477.2,"m":469.7,"p":182.733,"t":"182.733","bg":"#ff4f1f"},{"a":462.2,"b":477.2,"m":469.7,"p":182.667,"t":"182.667","bg":"#5b4fd0"},{"a":462.2,"b":477.2,"m":469.7,"p":182.0,"t":"182.000","bg":"#c4c4c4"}]},
"layer":[
{"transform":[{"calculate":"datum.p+0.0125","as":"p1"},{"calculate":"datum.p-0.0125","as":"p0"}],
"mark":{"type":"rect","clip":false},
"encoding":{"x":{"field":"a","type":"quantitative","title":null},"x2":{"field":"b"},"y":{"field":"p0","type":"quantitative","title":null},"y2":{"field":"p1"},"fill":{"field":"bg","type":"nominal","scale":null}}},
{"mark":{"type":"text","clip":false,"color":"#ffffff","font":"Liberation Sans","fontSize":7,"align":"center","baseline":"middle"},
"encoding":{"x":{"field":"m","type":"quantitative","title":null},"y":{"field":"p","type":"quantitative","title":null},"text":{"field":"t"}}}
]},
{"data":{"values":[{"a":154.2,"b":181.4,"m":167.8,"p0":181.928,"p1":181.959,"pm":181.943,"t":"2026.02.20 03:25"}]},
"layer":[
{"mark":{"type":"rect","clip":false,"color":"#2222ff"},
"encoding":{"x":{"field":"a","type":"quantitative","title":null},"x2":{"field":"b"},"y":{"field":"p0","type":"quantitative","title":null},"y2":{"field":"p1"}}},
{"mark":{"type":"text","clip":false,"color":"#ffffff","font":"Liberation Sans","fontSize":7,"align":"center","baseline":"middle"},
"encoding":{"x":{"field":"m","type":"quantitative","title":null},"y":{"field":"pm","type":"quantitative","title":null},"text":{"field":"t"}}}
]}
]
}
